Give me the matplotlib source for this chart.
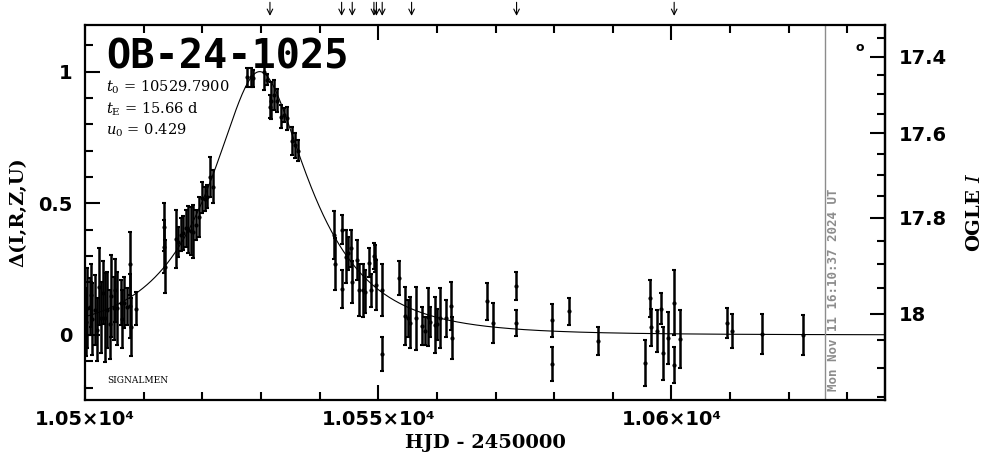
import numpy as np
import matplotlib
matplotlib.use('Agg')
import matplotlib.pyplot as plt
from matplotlib.ticker import MultipleLocator, FixedLocator, FuncFormatter

plt.rcParams['mathtext.fontset'] = 'dejavuserif'

# event parameters
name = 'OB-24-1025'
t0 = 10529.7900
tE = 15.66
u0 = 0.429
I_base = 18.04
f_s = 0.495
now_hjd = 10626.2
now_label = 'Mon Nov 11 16:10:37 2024 UT'

# observations: HJD-2450000, delta, error
t_obs = [10500.2, 10500.4, 10500.8, 10501.0, 10501.25, 10501.7, 10502.0, 10502.4,
         10502.8, 10503.1, 10503.4, 10503.8, 10504.2, 10504.5, 10504.9, 10505.2,
         10505.5, 10506.1, 10506.3, 10506.6, 10507.1, 10507.6, 10507.7, 10507.8,
         10508.75,
         10513.45, 10513.55, 10513.65, 10515.5, 10515.9, 10516.3, 10516.8, 10517.2,
         10517.6, 10518.0, 10518.5, 10518.9, 10519.5, 10519.9, 10520.5, 10520.8,
         10521.4, 10521.8,
         10527.6, 10528.3, 10528.7, 10530.6, 10531.0, 10531.5, 10531.8, 10532.3,
         10532.7, 10533.5, 10534.0, 10534.4, 10535.3, 10535.8, 10536.4,
         10542.5, 10542.7, 10543.8, 10543.9, 10544.5, 10544.9, 10545.4, 10545.6,
         10546.3, 10546.8, 10547.4, 10547.7, 10548.5, 10548.7, 10549.3, 10549.5,
         10549.7, 10550.6, 10550.7, 10553.6, 10554.6, 10555.1, 10555.5, 10556.5,
         10557.5, 10557.96, 10558.5, 10558.9, 10559.7, 10559.95, 10560.6, 10561.5,
         10562.4, 10562.6,
         10568.6, 10569.6, 10573.5, 10573.55, 10579.6, 10579.65, 10582.6, 10587.5,
         10595.5, 10596.3, 10596.5, 10597.5, 10598.3, 10598.5, 10599.4, 10600.4,
         10600.45, 10601.4, 10609.5, 10610.4, 10615.5, 10622.5]
d_obs = [0.05, 0.101, 0.107, 0.15, 0.061, 0.095, 0.02, 0.183,
         0.066, 0.16, 0.066, 0.095, 0.04, 0.149, 0.101, 0.17,
         0.102, 0.123, 0.06, 0.123, 0.107, 0.27, 0.11, 0.03,
         0.10,
         0.41, 0.335, 0.26, 0.364, 0.354, 0.38, 0.387, 0.405,
         0.40, 0.395, 0.392, 0.418, 0.449, 0.522, 0.516, 0.525,
         0.60, 0.563,
         0.978, 0.978, 0.975, 1.0, 0.97, 0.867, 0.89, 0.91,
         0.89, 0.829, 0.834, 0.823, 0.737, 0.72, 0.70,
         0.38, 0.27, 0.40, 0.175, 0.297, 0.31, 0.33, 0.20,
         0.285, 0.171, 0.17, 0.164, 0.275, 0.17, 0.30, 0.29,
         0.19, 0.171, -0.072, 0.216, 0.072, 0.064, 0.047, 0.064,
         0.034, 0.016, 0.068, 0.05, 0.038, 0.04, 0.064, 0.064,
         0.11, -0.01,
         0.128, 0.046, 0.187, 0.045, 0.055, -0.109, 0.09, -0.023,
         -0.106, 0.14, 0.03, 0.016, 0.10, -0.07, -0.012, 0.123,
         -0.114, -0.015, 0.046, 0.015, 0.004, 0.0]
e_obs = [0.13, 0.152, 0.108, 0.12, 0.136, 0.133, 0.12, 0.146,
         0.136, 0.12, 0.168, 0.146, 0.13, 0.155, 0.12, 0.12,
         0.139, 0.085, 0.11, 0.098, 0.07, 0.12, 0.12, 0.11,
         0.063,
         0.09, 0.10, 0.10, 0.11, 0.057, 0.063, 0.065, 0.07,
         0.09, 0.09, 0.10, 0.057, 0.076, 0.06, 0.047, 0.044,
         0.076, 0.063,
         0.035, 0.035, 0.032, 0.07, 0.02, 0.044, 0.07, 0.057,
         0.045, 0.044, 0.027, 0.044, 0.054, 0.047, 0.04,
         0.09, 0.10, 0.054, 0.073, 0.10, 0.063, 0.07, 0.08,
         0.076, 0.10, 0.10, 0.082, 0.054, 0.063, 0.05, 0.05,
         0.095, 0.10, 0.066, 0.063, 0.11, 0.07, 0.098, 0.12,
         0.073, 0.054, 0.11, 0.057, 0.108, 0.06, 0.114, 0.07,
         0.09, 0.08,
         0.071, 0.077, 0.054, 0.048, 0.061, 0.065, 0.052, 0.053,
         0.087, 0.07, 0.07, 0.079, 0.06, 0.10, 0.10, 0.123,
         0.07, 0.11, 0.058, 0.065, 0.077, 0.077]

# epochs marked with arrows at the top
arrow_t = [10531.54, 10543.76, 10545.57, 10549.27, 10549.69, 10550.68,
           10555.69, 10573.59, 10600.46]

# right axis ticks (OGLE I)
mag_ticks = [17.4, 17.6, 17.8, 18.0]
mag_minor = [17.35, 17.45, 17.5, 17.55, 17.65, 17.7, 17.75, 17.85, 17.9,
             17.95, 18.05, 18.1, 18.15]


def magnif(u):
    return (u**2 + 2) / (u * np.sqrt(u**2 + 4))


L = np.log10(magnif(u0))


def delta_to_mag(d):
    d = np.asarray(d, dtype=float)
    flux = 1 + f_s * (10**(L * d) - 1)
    return I_base - 2.5 * np.log10(np.clip(flux, 1e-3, None))


def mag_to_delta(m):
    m = np.asarray(m, dtype=float)
    a = 1 + (10**(-0.4 * (m - I_base)) - 1) / f_s
    return np.log10(np.clip(a, 1e-3, None)) / L


fig = plt.figure(figsize=(9.88, 4.59), dpi=100)
ax = fig.add_axes([0.0860, 0.1285, 0.8097, 0.817])
ax.set_xlim(10500, 10636.4)
ax.set_ylim(-0.247, 1.177)

# model curve
tt = np.linspace(10500, 10636.4, 800)
uu = np.sqrt(u0**2 + ((tt - t0) / tE)**2)
ax.plot(tt, np.log10(magnif(uu)) / L, color='black', lw=0.8)

ax.errorbar(t_obs, d_obs, yerr=e_obs, fmt='o', ms=2, color='black',
            elinewidth=1.8, capsize=1.5, capthick=1.5)

ax.axvline(now_hjd, color='#8c8c8c', lw=1.0)
ax.text(now_hjd + 0.35, -0.212, now_label, rotation=90, color='#8c8c8c',
        family='DejaVu Sans Mono', fontweight='bold', fontsize=9,
        ha='left', va='bottom')

for t in arrow_t:
    ax.annotate('', xy=(t, 1.017), xycoords=('data', 'axes fraction'),
                xytext=(t, 1.068), textcoords=('data', 'axes fraction'),
                arrowprops=dict(arrowstyle='->', lw=0.8, color='black',
                                mutation_scale=10), annotation_clip=False)

ax.text(0.026, 0.915, name, transform=ax.transAxes, family='DejaVu Sans Mono',
        fontweight='bold', fontsize=29, va='center', ha='left')
ax.text(0.026, 0.833, r'$t_0$ = %.4f' % t0, transform=ax.transAxes,
        family='DejaVu Serif', fontsize=10.5, va='center')
ax.text(0.026, 0.775, r'$t_{\rm E}$ = %.2f d' % tE, transform=ax.transAxes,
        family='DejaVu Serif', fontsize=10.5, va='center')
ax.text(0.026, 0.718, r'$u_0$ = %.3f' % u0, transform=ax.transAxes,
        family='DejaVu Serif', fontsize=10.5, va='center')
ax.text(0.028, 0.053, 'SIGNALMEN', transform=ax.transAxes,
        family='DejaVu Serif', fontsize=6.5, va='center')
ax.text(0.969, 0.94, 'o', transform=ax.transAxes, fontsize=9,
        fontweight='bold', ha='center', va='center')

ax.xaxis.set_major_locator(MultipleLocator(50))
ax.xaxis.set_minor_locator(MultipleLocator(10))
ax.xaxis.set_major_formatter(FuncFormatter(lambda v, p: '%g×10⁴' % (v / 1e4)))
ax.yaxis.set_major_locator(MultipleLocator(0.5))
ax.yaxis.set_minor_locator(MultipleLocator(0.1))
ax.yaxis.set_major_formatter(FuncFormatter(lambda v, p: '%g' % v))

ax.tick_params(which='both', direction='in', top=True, right=False, width=1.5)
ax.tick_params(which='major', length=11)
ax.tick_params(which='minor', length=5.5)
ax.tick_params(axis='x', pad=7)
ax.tick_params(axis='y', pad=9)
for lab in ax.get_xticklabels() + ax.get_yticklabels():
    lab.set_fontweight('bold')
    lab.set_fontsize(14)
for s in ax.spines.values():
    s.set_linewidth(1.6)

ax.set_xlabel('HJD - 2450000', family='DejaVu Serif', fontweight='bold',
              fontsize=14, labelpad=4)
ax.set_ylabel('Δ(I,R,Z,U)', family='DejaVu Serif', fontweight='bold',
              fontsize=14, labelpad=8)

sec = ax.secondary_yaxis('right', functions=(delta_to_mag, mag_to_delta))
sec.yaxis.set_major_locator(FixedLocator(mag_ticks))
sec.yaxis.set_minor_locator(FixedLocator(mag_minor))
sec.yaxis.set_major_formatter(FuncFormatter(lambda v, p: '%g' % v))
sec.tick_params(which='both', direction='in', width=1.5, pad=10)
sec.tick_params(which='major', length=11)
sec.tick_params(which='minor', length=5.5)
for lab in sec.get_yticklabels():
    lab.set_fontweight('bold')
    lab.set_fontsize(14)
sec.spines['right'].set_linewidth(1.6)

fig.text(975 / 988, 0.537, 'OGLE $I$', rotation=90, family='DejaVu Serif',
         fontweight='bold', fontsize=14, ha='center', va='center')

fig.savefig('out.png', dpi=100)
